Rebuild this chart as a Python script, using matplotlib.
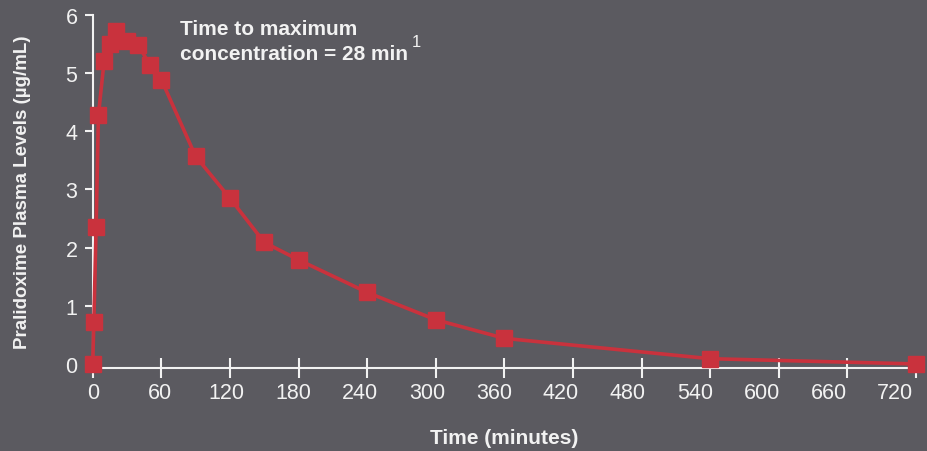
import matplotlib.pyplot as plt

# pralidoxime plasma levels after injection
time_min = [0, 1, 3, 5, 10, 15, 20, 30, 40, 50, 60, 90, 120, 150, 180, 240, 300, 360, 540, 720]
level = [0.0, 0.72, 2.36, 4.28, 5.21, 5.5, 5.73, 5.55, 5.48, 5.14, 4.89, 3.57, 2.85, 2.09, 1.79, 1.23, 0.76, 0.44, 0.09, 0.0]
xticks = list(range(0, 721, 60))
xtick_labels = [str(t) for t in xticks]
yticks = [0, 1, 2, 3, 4, 5, 6]

bg = '#5b5a60'
red = '#c9323d'
fg = '#f2f2f2'

plt.rcParams['font.family'] = ['Liberation Sans', 'DejaVu Sans']

fig = plt.figure(figsize=(9.28, 4.52), dpi=100, facecolor=bg)
ax = fig.add_axes([92.7 / 928, 83 / 452, (916 - 92.7) / 928, (369 - 16) / 452])
ax.set_facecolor(bg)

ax.plot(time_min, level, color=red, lw=2.6, marker='s', ms=12, clip_on=False, zorder=3)

ax.set_xlim(0, 720)
ax.set_ylim(-0.07, 6)
ax.set_yticks(yticks)

# tick marks on the major ticks, labels drift slightly left in the original
ax.xaxis.remove_overlapping_locs = False
ax.set_xticks(xticks)
ax.set_xticklabels([])
ax.set_xticks([t * 0.975 for t in xticks], labels=xtick_labels, minor=True)

for s in ['top', 'right']:
    ax.spines[s].set_visible(False)
for s in ['left', 'bottom']:
    ax.spines[s].set_color(fg)
    ax.spines[s].set_linewidth(1.5)
ax.spines['left'].set_bounds(-0.07, 6)

ax.tick_params(axis='x', which='major', direction='inout', length=15, width=1.5, colors=fg)
ax.tick_params(axis='x', which='minor', length=0, colors=fg, labelsize=15.5, pad=10)
ax.tick_params(axis='y', direction='out', length=6, width=1.5, colors=fg, labelsize=15.5, pad=5)

ax.set_xlabel('Time (minutes)', color=fg, fontsize=15, fontweight='bold', labelpad=18)
ax.set_ylabel('Pralidoxime Plasma Levels (µg/mL)', color=fg, fontsize=13.5, fontweight='bold', labelpad=25)

fig.text(180 / 928, 1 - 35 / 452, 'Time to maximum', color=fg,
         fontsize=15, fontweight='bold', va='baseline', ha='left')
fig.text(180 / 928, 1 - 60 / 452, 'concentration = 28 min', color=fg,
         fontsize=15, fontweight='bold', va='baseline', ha='left')
fig.text(412 / 928, 1 - 47 / 452, '1', color=fg, fontsize=12, va='baseline', ha='left')

fig.savefig('out.png', dpi=100, facecolor=bg)
